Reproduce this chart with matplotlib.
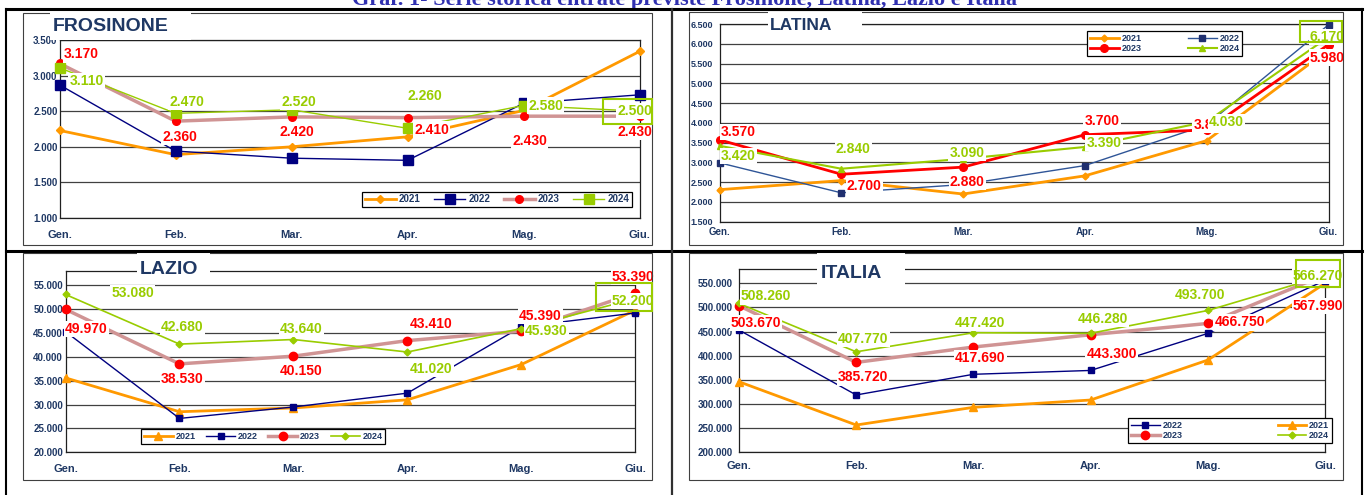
import matplotlib
matplotlib.use('Agg')
import matplotlib.pyplot as plt
from matplotlib.patches import Rectangle
from matplotlib.lines import Line2D
from matplotlib.ticker import FuncFormatter, MultipleLocator

# ---------------- dati ----------------
mesi = ['Gen.', 'Feb.', 'Mar.', 'Apr.', 'Mag.', 'Giu.']
anni = ['2021', '2022', '2023', '2024']

fr_2021 = [2230, 1890, 2000, 2140, 2510, 3340]
fr_2022 = [2870, 1940, 1840, 1810, 2610, 2730]
fr_2023 = [3170, 2360, 2420, 2410, 2430, 2430]
fr_2024 = [3110, 2470, 2520, 2260, 2580, 2500]

lt_2021 = [2310, 2540, 2200, 2660, 3550, 5850]
lt_2022 = [2990, 2230, 2440, 2920, 3950, 6480]
lt_2023 = [3570, 2700, 2880, 3700, 3820, 5980]
lt_2024 = [3420, 2840, 3090, 3390, 4030, 6170]

lz_2021 = [35600, 28500, 29300, 31000, 38400, 49800]
lz_2022 = [45300, 27100, 29500, 32400, 46300, 49200]
lz_2023 = [49970, 38530, 40150, 43410, 45390, 53390]
lz_2024 = [53080, 42680, 43640, 41020, 45930, 52200]

it_2021 = [345500, 255500, 292300, 307500, 390600, 550000]
it_2022 = [453000, 318000, 361000, 369000, 446000, 556000]
it_2023 = [503670, 385720, 417690, 443300, 466750, 567990]
it_2024 = [508260, 407770, 447420, 446280, 493700, 566270]

titolo = 'Graf. 1- Serie storica entrate previste Frosinone, Latina, Lazio e Italia'

# ---------------- stile ----------------
W, H = 1368, 495
NAVY_TXT = '#1F3864'
ORANGE = '#FF9900'
NAVY = '#000080'
ROSE = '#D09494'
RED = '#FF0000'
GREEN = '#99CC00'
NARROW = ['Liberation Sans Narrow', 'Liberation Sans', 'DejaVu Sans']
SANS = ['Liberation Sans', 'DejaVu Sans']

fig = plt.figure(figsize=(W / 100, H / 100), dpi=100)
fig.patch.set_facecolor('white')


def fx(px):
    return px / W


def fy(py):
    return 1 - py / H


def punti(v, pos=None):
    return f'{int(round(v)):,}'.replace(',', '.')


def stile(c, lw, m, ms, mc=None):
    return dict(c=c, lw=lw, m=m, ms=ms, mc=mc or c)


def pannello(box, data, styles, ylim, step, yfs, ypad, xfs, xpad, off23, off24):
    left, top, right, bottom = box
    ax = fig.add_axes([fx(left), fy(bottom), (right - left) / W, (bottom - top) / H])
    x = list(range(len(mesi)))
    linee = {}
    for anno in anni:
        st = styles[anno]
        ln, = ax.plot(x, data[anno], color=st['c'], lw=st['lw'], marker=st['m'],
                      ms=st['ms'], mfc=st['mc'], mec=st['mc'], label=anno,
                      zorder=3, clip_on=False)
        linee[anno] = ln
    ax.set_xlim(0, len(mesi) - 1)
    ax.set_ylim(*ylim)
    ax.yaxis.set_major_locator(MultipleLocator(step))
    ax.yaxis.set_major_formatter(FuncFormatter(punti))
    ax.set_xticks(x)
    ax.set_xticklabels(mesi)
    ax.grid(axis='y', color='#404040', lw=0.9)
    ax.set_axisbelow(True)
    ax.tick_params(axis='both', length=0, colors=NAVY_TXT)
    ax.tick_params(axis='y', labelsize=yfs, pad=ypad)
    ax.tick_params(axis='x', labelsize=xfs, pad=xpad)
    for lab in ax.get_xticklabels() + ax.get_yticklabels():
        lab.set_fontweight('bold')
        lab.set_family(SANS)
    for sp in ax.spines.values():
        sp.set_color('#202020')
        sp.set_linewidth(0.9)
    # etichette dati 2023 (rosso) e 2024 (verde)
    for anno, col, offs in (('2023', RED, off23), ('2024', GREEN, off24)):
        for i, (v, (dx, dy)) in enumerate(zip(data[anno], offs)):
            ax.annotate(punti(v), xy=(i, v), xytext=(dx, dy), textcoords='offset pixels',
                        ha='center', va='center', color=col, fontsize=10,
                        fontweight='bold', family=NARROW,
                        bbox=dict(boxstyle='square,pad=0.08', fc='white', ec='none'),
                        zorder=6, annotation_clip=False)
    return ax, linee


def legenda(ax, linee, ordine, box, ncol, fs):
    x0, y0, x1, y1 = box
    leg = ax.legend(handles=[linee[a] for a in ordine], loc='center',
                    bbox_to_anchor=(fx(x0), fy(y1), (x1 - x0) / W, (y1 - y0) / H),
                    bbox_transform=fig.transFigure, mode='expand', ncol=ncol,
                    prop=dict(family=SANS, weight='bold', size=fs),
                    frameon=True, fancybox=False, edgecolor='black', framealpha=1,
                    borderpad=0.3, labelspacing=0.1, handlelength=3.2,
                    handletextpad=0.3, borderaxespad=0, columnspacing=1.0)
    leg.get_frame().set_linewidth(0.9)
    leg.set_zorder(7)
    for t in leg.get_texts():
        t.set_color(NAVY_TXT)


def rett(x0, y0, x1, y1, **kw):
    fig.add_artist(Rectangle((fx(x0), fy(y1)), (x1 - x0) / W, (y1 - y0) / H,
                             transform=fig.transFigure, **kw))


def nome(testo, box, tx, ty, fs):
    rett(*box, fc='white', ec='none', zorder=4)
    fig.text(fx(tx), fy(ty), testo, ha='left', va='center', fontsize=fs,
             fontweight='bold', family=SANS, color=NAVY_TXT, zorder=5)


def linea(x0, y0, x1, y1, lw, c='black'):
    fig.add_artist(Line2D([fx(x0), fx(x1)], [fy(y0), fy(y1)], lw=lw, color=c,
                          transform=fig.transFigure, zorder=8))


# ---------------- cornici ----------------
for b in [(23.3, 12.5, 651.7, 245), (689, 12.3, 1342.5, 245),
          (23.3, 253.3, 651.7, 480), (689, 253.3, 1343.3, 480)]:
    rett(*b, fc='none', ec='#404040', lw=0.8, zorder=2)

# ---------------- Frosinone ----------------
st_fr = {'2021': stile(ORANGE, 2, 'D', 4.5), '2022': stile(NAVY, 1, 's', 6.5),
         '2023': stile(ROSE, 2.5, 'o', 5.5, RED), '2024': stile(GREEN, 1, 's', 7)}
ax, ln = pannello((59.5, 40, 639.6, 218),
                  {'2021': fr_2021, '2022': fr_2022, '2023': fr_2023, '2024': fr_2024},
                  st_fr, (1000, 3500), 500, 7, 1.4, 8, 8.3,
                  [(22, 9), (4, -16), (5, -15), (24, -12), (6, -25), (-5, -16)],
                  [(27, -13), (11, 11), (7, 8), (17, 32), (22, 0), (-5, 0)])
legenda(ax, ln, ['2021', '2022', '2023', '2024'], (362, 190.7, 632, 208.3), 4, 7)

# ---------------- Latina ----------------
st_lt = {'2021': stile(ORANGE, 2, 'D', 3.5), '2022': stile('#2F5597', 1, 's', 4.5, '#1F2F6F'),
         '2023': stile(RED, 2, 'o', 5.5), '2024': stile(GREEN, 1.5, '^', 4.5)}
ax, ln = pannello((719.5, 24, 1328.5, 221.7),
                  {'2021': lt_2021, '2022': lt_2022, '2023': lt_2023, '2024': lt_2024},
                  st_lt, (1500, 6500), 500, 6.5, 4.7, 7, 4.1,
                  [(19, 8), (23, -12), (4, -15), (17, 14), (4, 5), (-1, -13)],
                  [(19, -10), (12, 20), (4, 6), (19, 4), (20, 0), (-1, 0)])
legenda(ax, ln, ['2021', '2023', '2022', '2024'], (1087, 32, 1242, 55), 2, 6.5)

# ---------------- Lazio ----------------
st_lz = {'2021': stile(ORANGE, 2, '^', 6), '2022': stile(NAVY, 1, 's', 5),
         '2023': stile(ROSE, 2.5, 'o', 6, RED), '2024': stile(GREEN, 1.2, 'D', 3.5)}
ax, ln = pannello((65.5, 271, 635.3, 452.3),
                  {'2021': lz_2021, '2022': lz_2022, '2023': lz_2023, '2024': lz_2024},
                  st_lz, (20000, 58000), 5000, 7, 1.8, 8, 8.1,
                  [(21, -20), (3, -15), (8, -15), (24, 17), (19, 15), (-2, 16)],
                  [(67, 1), (3, 17), (8, 11), (24, -17), (25, -2), (-2, -2)])
legenda(ax, ln, ['2021', '2022', '2023', '2024'], (141, 423, 385, 450), 4, 6.5)

# ---------------- Italia ----------------
ax, ln = pannello((739, 269, 1325, 451.7),
                  {'2021': it_2021, '2022': it_2022, '2023': it_2023, '2024': it_2024},
                  st_lz, (200000, 580000), 50000, 7, 4.3, 8, 6.9,
                  [(17, -17), (7, -15), (7, -11), (21, -19), (32, 1), (-7, -31)],
                  [(27, 7), (7, 13), (7, 10), (12, 14), (-8, 15), (-7, 0)])
legenda(ax, ln, ['2022', '2023', '2021', '2024'], (1128, 416.7, 1332, 444), 2, 6.5)

# ---------------- titoli dei pannelli ----------------
nome('FROSINONE', (50, 12, 191, 40), 53, 26.7, 14)
nome('LATINA', (768, 12, 862, 43), 770, 26, 12.5)
nome('LAZIO', (137, 253, 210, 284), 139.6, 269, 14)
nome('ITALIA', (817, 253, 905, 290), 821, 274, 14)

# riquadri verdi sull'ultima etichetta 2024
for b in [(603, 98.7, 652, 124), (1299.6, 20.7, 1341.7, 41.7),
          (596, 283, 652, 310.7), (1295.6, 260, 1340, 286.7)]:
    rett(*b, fc='none', ec=GREEN, lw=1.5, zorder=6)

# ---------------- tabella esterna ----------------
linea(5.7, 9, 1361.7, 9, 2.2)
linea(5.7, 250.7, 1361.7, 250.7, 2.2)
linea(5.7, 9, 5.7, 495, 1.5)
linea(671.7, 9, 671.7, 495, 1.6, '#303030')
linea(1361.7, 9, 1361.7, 495, 1.5)

fig.text(fx(685), fy(4.5), titolo, ha='center', va='baseline', fontsize=16,
         fontweight='bold', family=['Liberation Serif', 'DejaVu Serif'], color='#3030B0')

fig.savefig('out.png', dpi=100, facecolor='white')
